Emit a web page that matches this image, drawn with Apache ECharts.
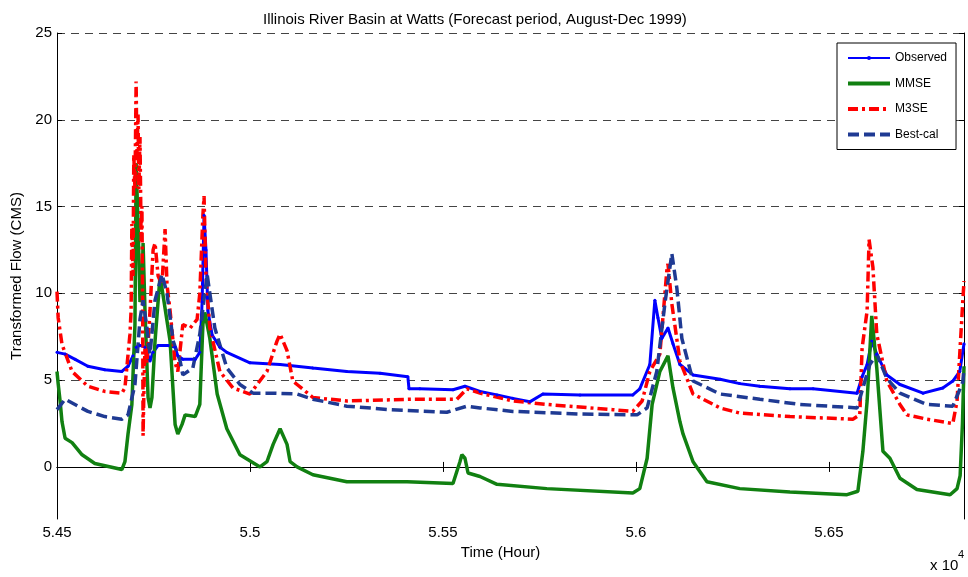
<!DOCTYPE html>
<html>
<head>
<meta charset="utf-8">
<title>Illinois River Basin at Watts</title>
<script src="https://cdn.jsdelivr.net/npm/echarts@6/dist/echarts.min.js"></script>
<style>
  html, body { margin: 0; padding: 0; background: #fff; }
  #chart { width: 968px; height: 577px; }
</style>
</head>
<body>
<div id="chart"></div>
<script>
// 横轴刻度（小时）与纵轴刻度
var xTicks = [54500, 55000, 55500, 56000, 56500];
var yTicks = [0, 5, 10, 15, 20, 25];

// Observed
var obsHours = [54500, 54521, 54547, 54580, 54624, 54668, 54684, 54697, 54705, 54715, 54728, 54741, 54749, 54762, 54788, 54806, 54813, 54826, 54858, 54870, 54876, 54881, 54886, 54891, 54902, 54922, 54940, 55000, 55078, 55163, 55251, 55337, 55409, 55412, 55440, 55526, 55557, 55596, 55640, 55681, 55725, 55759, 55855, 55992, 56010, 56036, 56049, 56057, 56067, 56083, 56096, 56114, 56148, 56218, 56269, 56321, 56399, 56459, 56573, 56586, 56599, 56611, 56624, 56650, 56684, 56744, 56795, 56821, 56839, 56850];
var obsFlow = [6.6, 6.5, 6.2, 5.8, 5.6, 5.5, 5.8, 6.4, 6.9, 7.0, 6.9, 6.1, 6.6, 7.0, 7.0, 6.9, 6.4, 6.2, 6.2, 6.6, 9.5, 14.5, 12.5, 9.0, 7.6, 6.9, 6.6, 6.0, 5.9, 5.7, 5.5, 5.4, 5.2, 4.5, 4.5, 4.45, 4.65, 4.35, 4.15, 3.95, 3.75, 4.2, 4.15, 4.15, 4.5, 5.9, 9.6, 8.6, 7.4, 8.0, 7.1, 5.9, 5.3, 5.05, 4.8, 4.65, 4.5, 4.5, 4.25, 5.2, 5.9, 7.25, 6.5, 5.3, 4.75, 4.25, 4.55, 4.95, 5.5, 7.1];

// MMSE
var mmseHours = [54500, 54503, 54508, 54513, 54521, 54539, 54565, 54598, 54668, 54676, 54684, 54694, 54702, 54705, 54710, 54715, 54720, 54723, 54728, 54736, 54741, 54746, 54754, 54767, 54772, 54793, 54806, 54813, 54824, 54832, 54858, 54870, 54878, 54883, 54896, 54915, 54940, 54974, 55026, 55044, 55060, 55078, 55096, 55104, 55122, 55163, 55251, 55407, 55526, 55544, 55549, 55557, 55565, 55596, 55640, 55769, 55992, 56010, 56029, 56042, 56062, 56083, 56096, 56114, 56122, 56148, 56184, 56269, 56399, 56547, 56575, 56588, 56599, 56611, 56624, 56640, 56658, 56684, 56728, 56814, 56832, 56840, 56846, 56850];
var mmseFlow = [5.5, 4.8, 3.8, 2.6, 1.65, 1.4, 0.7, 0.2, -0.15, 0.3, 1.9, 3.6, 8.2, 17.5, 14.0, 9.5, 10.0, 12.9, 9.0, 4.0, 3.4, 4.0, 7.25, 11.0, 10.3, 7.25, 2.45, 1.9, 2.45, 3.0, 2.9, 3.6, 8.2, 8.9, 7.4, 4.2, 2.2, 0.7, 0.0, 0.3, 1.3, 2.2, 1.3, 0.3, 0.0, -0.45, -0.85, -0.85, -0.95, 0.3, 0.7, 0.5, -0.35, -0.55, -1.0, -1.25, -1.5, -1.25, 0.5, 3.6, 5.5, 6.4, 4.55, 2.6, 1.9, 0.3, -0.85, -1.25, -1.45, -1.6, -1.4, 0.9, 3.8, 8.7, 5.7, 0.9, 0.5, -0.65, -1.3, -1.6, -1.25, -0.5, 2.5, 5.8];

// M3SE
var m3seHours = [54500, 54503, 54513, 54539, 54580, 54624, 54668, 54676, 54689, 54692, 54694, 54697, 54699, 54702, 54705, 54707, 54710, 54712, 54715, 54718, 54720, 54722, 54723, 54725, 54728, 54733, 54741, 54749, 54754, 54762, 54772, 54780, 54785, 54793, 54806, 54813, 54826, 54845, 54863, 54870, 54878, 54881, 54886, 54896, 54922, 54956, 55000, 55044, 55070, 55078, 55096, 55111, 55122, 55163, 55251, 55422, 55536, 55562, 55596, 55681, 55769, 55940, 55992, 56016, 56036, 56062, 56080, 56083, 56093, 56114, 56148, 56218, 56269, 56399, 56562, 56580, 56586, 56599, 56604, 56614, 56624, 56650, 56684, 56702, 56754, 56821, 56832, 56847, 56850];
var m3seFlow = [10.1, 8.6, 7.05, 5.5, 4.65, 4.35, 4.25, 4.55, 7.65, 9.0, 14.0, 11.0, 18.0, 16.0, 22.2, 18.0, 20.3, 16.0, 19.0, 13.0, 15.0, 9.0, 1.8, 4.2, 7.0, 6.0, 9.0, 12.5, 12.9, 11.0, 10.5, 13.7, 10.5, 9.0, 6.0, 5.5, 8.2, 8.0, 8.5, 10.0, 14.5, 15.6, 11.0, 8.0, 5.5, 4.55, 4.2, 5.5, 7.25, 7.65, 6.7, 4.95, 4.75, 4.0, 3.8, 3.9, 3.9, 4.5, 4.25, 3.8, 3.6, 3.3, 3.2, 3.8, 5.5, 6.5, 11.3, 11.7, 9.4, 6.1, 4.2, 3.4, 3.1, 2.9, 2.75, 3.0, 6.85, 9.0, 13.1, 11.5, 7.65, 4.95, 3.6, 3.0, 2.75, 2.5, 3.8, 9.6, 10.7];

// Best-cal
var bestHours = [54500, 54521, 54580, 54624, 54668, 54684, 54702, 54715, 54723, 54733, 54741, 54754, 54772, 54785, 54801, 54819, 54826, 54852, 54870, 54889, 54896, 54909, 54940, 54974, 55008, 55060, 55122, 55163, 55251, 55363, 55510, 55562, 55596, 55681, 55855, 56003, 56029, 56054, 56075, 56093, 56106, 56119, 56148, 56218, 56321, 56425, 56573, 56588, 56606, 56624, 56650, 56684, 56754, 56821, 56847, 56850];
var bestFlow = [3.3, 3.9, 3.2, 2.9, 2.75, 3.0, 4.75, 8.5, 9.6, 8.0, 6.5, 9.6, 11.1, 10.0, 7.25, 6.1, 5.3, 5.7, 7.65, 11.1, 10.0, 8.0, 5.7, 4.75, 4.25, 4.25, 4.2, 3.9, 3.5, 3.3, 3.15, 3.5, 3.4, 3.2, 3.05, 3.0, 3.4, 5.5, 9.4, 12.3, 10.3, 7.4, 4.95, 4.2, 3.9, 3.6, 3.4, 4.55, 5.9, 6.5, 5.1, 4.25, 3.6, 3.5, 4.9, 5.7];

function pairs(hours, flow) {
  return hours.map(function (h, i) { return [h, flow[i]]; });
}

var font = 'Liberation Sans, Arial, sans-serif';
// 图例里只画线，不画圆点（Observed 除外）
var noDot = { color: 'rgba(0,0,0,0)', borderWidth: 0 };

var option = {
  animation: false,
  backgroundColor: '#fff',
  title: {
    text: 'Illinois River Basin at Watts (Forecast period, August-Dec 1999)',
    left: 258,
    top: 7,
    textStyle: { fontFamily: font, fontSize: 15, fontWeight: 'normal', color: '#000' }
  },
  legend: {
    orient: 'vertical',
    left: 837,
    top: 43,
    padding: [9, 9, 9, 9],
    itemWidth: 42,
    itemHeight: 5,
    itemGap: 13.5,
    backgroundColor: '#fff',
    borderColor: '#000',
    borderWidth: 1,
    textStyle: { fontFamily: font, fontSize: 12, color: '#000' },
    data: [
      { name: 'Observed', lineStyle: { width: 2 } },
      { name: 'MMSE', itemStyle: noDot, lineStyle: { width: 4 } },
      { name: 'M3SE', itemStyle: noDot, lineStyle: { width: 4 } },
      { name: 'Best-cal', itemStyle: noDot, lineStyle: { width: 4 } }
    ]
  },
  grid: { left: 57, right: 4, top: 33, bottom: 58 },
  xAxis: [{
    type: 'value',
    min: 54500,
    max: 56850,
    name: 'Time (Hour)',
    nameLocation: 'middle',
    nameGap: 26,
    nameTextStyle: { fontFamily: font, fontSize: 15, color: '#000', padding: [0, 20, 0, 0] },
    axisLine: { lineStyle: { color: '#000', width: 1 } },
    axisTick: { inside: true, length: 5, customValues: xTicks, lineStyle: { color: '#000' } },
    axisLabel: {
      customValues: xTicks,
      fontFamily: font, fontSize: 15, color: '#000', margin: 6,
      formatter: function (v) { return String(Number((v / 10000).toFixed(3))); }
    },
    splitLine: { show: false }
  }, {
    type: 'value',
    position: 'top',
    min: 54500,
    max: 56850,
    axisLine: { lineStyle: { color: '#000', width: 1 } },
    axisTick: { inside: true, length: 5, customValues: xTicks, lineStyle: { color: '#000' } },
    axisLabel: { show: false },
    splitLine: { show: false }
  }],
  yAxis: [{
    type: 'value',
    min: -3,
    max: 25,
    name: 'Transformed Flow (CMS)',
    nameLocation: 'middle',
    nameGap: 32,
    nameTextStyle: { fontFamily: font, fontSize: 15, color: '#000' },
    axisLine: { show: true, lineStyle: { color: '#000', width: 1 } },
    axisTick: { show: true, inside: true, length: 5, customValues: yTicks, lineStyle: { color: '#000' } },
    axisLabel: { customValues: yTicks, fontFamily: font, fontSize: 15, color: '#000', margin: 5 },
    splitLine: { show: true, lineStyle: { color: '#444', width: 1, type: [8, 6] } }
  }, {
    type: 'value',
    position: 'right',
    min: -3,
    max: 25,
    axisLine: { show: true, lineStyle: { color: '#000', width: 1 } },
    axisTick: { show: true, inside: true, length: 5, customValues: yTicks, lineStyle: { color: '#000' } },
    axisLabel: { show: false },
    splitLine: { show: false }
  }],
  graphic: [{
    type: 'text',
    left: 930,
    top: 558,
    style: { text: 'x 10', fontFamily: font, fontSize: 15, fill: '#000' }
  }, {
    type: 'text',
    left: 958,
    top: 549,
    style: { text: '4', fontFamily: font, fontSize: 11, fill: '#000' }
  }],
  series: [{
    name: 'Observed',
    type: 'line',
    data: pairs(obsHours, obsFlow),
    symbol: 'circle',
    symbolSize: 3,
    showSymbol: true,
    itemStyle: { color: '#0000ff' },
    lineStyle: { color: '#0000ff', width: 3 }
  }, {
    name: 'MMSE',
    type: 'line',
    data: pairs(mmseHours, mmseFlow),
    symbol: 'none',
    itemStyle: { color: '#118011' },
    lineStyle: { color: '#118011', width: 3.5 }
  }, {
    name: 'M3SE',
    type: 'line',
    data: pairs(m3seHours, m3seFlow),
    symbol: 'none',
    itemStyle: { color: '#ff0000' },
    lineStyle: { color: '#ff0000', width: 3.5, type: [10, 4, 3, 4] }
  }, {
    name: 'Best-cal',
    type: 'line',
    data: pairs(bestHours, bestFlow),
    symbol: 'none',
    itemStyle: { color: '#1f3a93' },
    lineStyle: { color: '#1f3a93', width: 3.5, type: [11, 5] }
  }]
};

var chart = echarts.init(document.getElementById('chart'));
chart.setOption(option);
</script>
</body>
</html>
